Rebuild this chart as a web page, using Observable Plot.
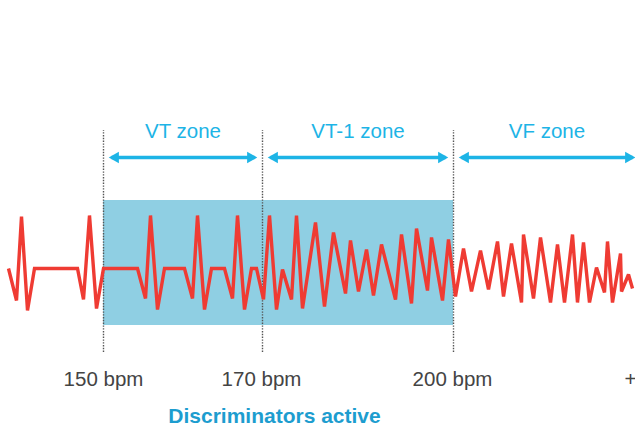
<!DOCTYPE html>
<html>
<head>
<meta charset="utf-8">
<script src="https://cdn.jsdelivr.net/npm/d3@7"></script>
<script src="https://cdn.jsdelivr.net/npm/@observablehq/plot@0.6"></script>
<style>
  html, body { margin: 0; padding: 0; background: #fff; overflow: hidden; }
  svg { display: block; }
</style>
</head>
<body>
<div id="chart"></div>
<script>
// Waveform samples (time units, amplitude units; baseline amplitude = 0)
const waveT = [8,16,21,27,34,77,83,89,96,103,137,145,150,157,164,184,192,197,204,211,224,232,237,244,251,256,263,269,276,282,291,296,302,315,324,333,345,350,358,366,373,381,395,401,411,416,427,431,442,448,455,463,471,480,488,497,503,511,521,523,533,540,550,557,564,572,577,583,589,596,604,607,612,620,621,628,632];
const waveV = [0,-32,52,-42,0,0,-31,53,-40,0,0,-30,53,-41,0,0,-30,53,-41,0,0,-30,53,-41,0,0,-31,53,-41,-1,-31,53,-40,46,-38,36,-25,28,-23,19,-27,24,-31,34,-35,40,-22,31,-32,29,-28,20,-23,18,-21,27,-28,25,-34,34,-30,31,-34,24,-34,34,-34,26,-34,1,-24,27,-34,15,-23,-6,-20];

// Zone boundaries (time units) and labels
const boundaries = [103, 262, 453];
const zoneStart = [103, 262, 453];
const zoneEnd = [262, 453, 640];
const zoneLabels = ["VT zone", "VT-1 zone", "VF zone"];

// Rate tick labels
const tickPos = [103, 261, 452, 630];
const tickLabels = ["150 bpm", "170 bpm", "200 bpm", "+"];

// Discriminator-active window
const activeStart = 103, activeEnd = 453;
const captionText = "Discriminators active";

const wave = waveT.map((t, i) => ({t, v: waveV[i]}));
const zones = zoneLabels.map((label, i) => ({label, x1: zoneStart[i], x2: zoneEnd[i], mid: (zoneStart[i] + Math.min(zoneEnd[i], 641)) / 2}));
const ticks = tickLabels.map((label, i) => ({label, x: tickPos[i]}));

const FONT = "Liberation Sans, Arial, Helvetica, sans-serif";
const ARROW = "#1db4e6";

const yLabel = 137, yArrow = 111, yTick = -111, yCaption = -148;
const yRuleTop = 138, yRuleBot = -84, yRectTop = 68, yRectBot = -57;

const plot = Plot.plot({
  width: 635,
  height: 430,
  margin: 0,
  style: {background: "#fff", fontFamily: FONT},
  x: {domain: [0, 635], axis: null},
  y: {domain: [-162, 268], axis: null},
  marks: [
    Plot.rect([{x1: activeStart, x2: activeEnd}], {x1: "x1", x2: "x2", y1: yRectBot, y2: yRectTop, fill: "#8fcfe3"}),
    Plot.ruleX(boundaries, {x: d => d, y1: yRuleBot, y2: yRuleTop, stroke: "#555", strokeWidth: 1.4, strokeDasharray: "1.4,1.4"}),
    Plot.line(wave, {x: "t", y: "v", stroke: "#ef3b33", strokeWidth: 3.4, strokeLinejoin: "miter", strokeMiterlimit: 3, strokeLinecap: "butt"}),
    // arrows
    Plot.link(zones, {x1: d => d.x1 + 8, x2: d => d.x2 - 8, y1: yArrow, y2: yArrow, stroke: ARROW, strokeWidth: 3.5}),
    Plot.dot(zones, {x: d => d.x1 + 4, y: yArrow, dx: 8, symbol: "triangle2", r: 5.6, rotate: -90, fill: ARROW, stroke: "none"}),
    Plot.dot(zones, {x: d => d.x2 - 4, y: yArrow, dx: -8, symbol: "triangle2", r: 5.6, rotate: 90, fill: ARROW, stroke: "none"}),
    Plot.text(zones, {x: "mid", y: yLabel, text: "label", fill: ARROW, fontSize: 20.5, fontFamily: FONT, textAnchor: "middle"}),
    Plot.text(ticks, {x: "x", y: yTick, text: "label", fill: "#444", fontSize: 20.5, fontFamily: FONT, textAnchor: "middle"}),
    Plot.text([captionText], {x: 274, y: yCaption, text: d => d, fill: "#1d9dcf", fontSize: 21, fontWeight: "bold", fontFamily: FONT, textAnchor: "middle"})
  ]
});
document.getElementById("chart").appendChild(plot);
</script>
</body>
</html>
